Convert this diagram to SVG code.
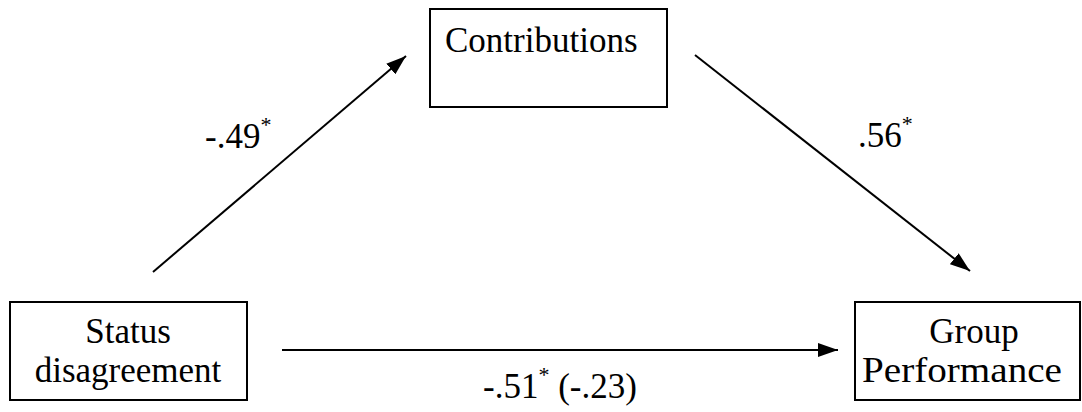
<svg xmlns="http://www.w3.org/2000/svg" width="1082" height="412" viewBox="0 0 1082 412">
<style>
.box{fill:#fff;stroke:#000;stroke-width:2}
.t{font-family:"Liberation Serif","Times New Roman",serif;font-size:35px;fill:#000}
.sup{font-size:22px}
.c{stroke:#000;stroke-width:2;fill:none}
</style>
<defs>
<marker id="a" viewBox="0 0 20 14" refX="20" refY="7" markerWidth="20" markerHeight="14" markerUnits="userSpaceOnUse" orient="auto">
<path d="M0,0 L20,7 L0,14 Z" fill="#000"/>
</marker>
</defs>
<rect width="1082" height="412" fill="#fff"/>
<g id="contributions">
<rect class="box" x="430" y="9" width="237" height="98"/>
<text class="t" x="445" y="52">Contributions</text>
</g>
<g id="status">
<rect class="box" x="10" y="302" width="237" height="98"/>
<text class="t" x="128" y="343" text-anchor="middle">Status</text>
<text class="t" x="128" y="382" text-anchor="middle">disagreement</text>
</g>
<g id="performance">
<rect class="box" x="855" y="302" width="225" height="98"/>
<text class="t" x="974" y="343" text-anchor="middle">Group</text>
<text class="t" x="862" y="382" textLength="200" lengthAdjust="spacingAndGlyphs">Performance</text>
</g>
<g id="connectors">
<line class="c" x1="153" y1="272" x2="406" y2="56" marker-end="url(#a)"/>
<line class="c" x1="695" y1="55" x2="970" y2="271" marker-end="url(#a)"/>
<line class="c" x1="282" y1="350" x2="838" y2="350" marker-end="url(#a)"/>
<text class="t" x="205" y="148">-.49<tspan class="sup" dy="-16">*</tspan></text>
<text class="t" x="858" y="147">.56<tspan class="sup" dy="-16">*</tspan></text>
<text class="t" x="483" y="398">-.51<tspan class="sup" dy="-16">*</tspan><tspan dy="16"> (-.23)</tspan></text>
</g>
</svg>
